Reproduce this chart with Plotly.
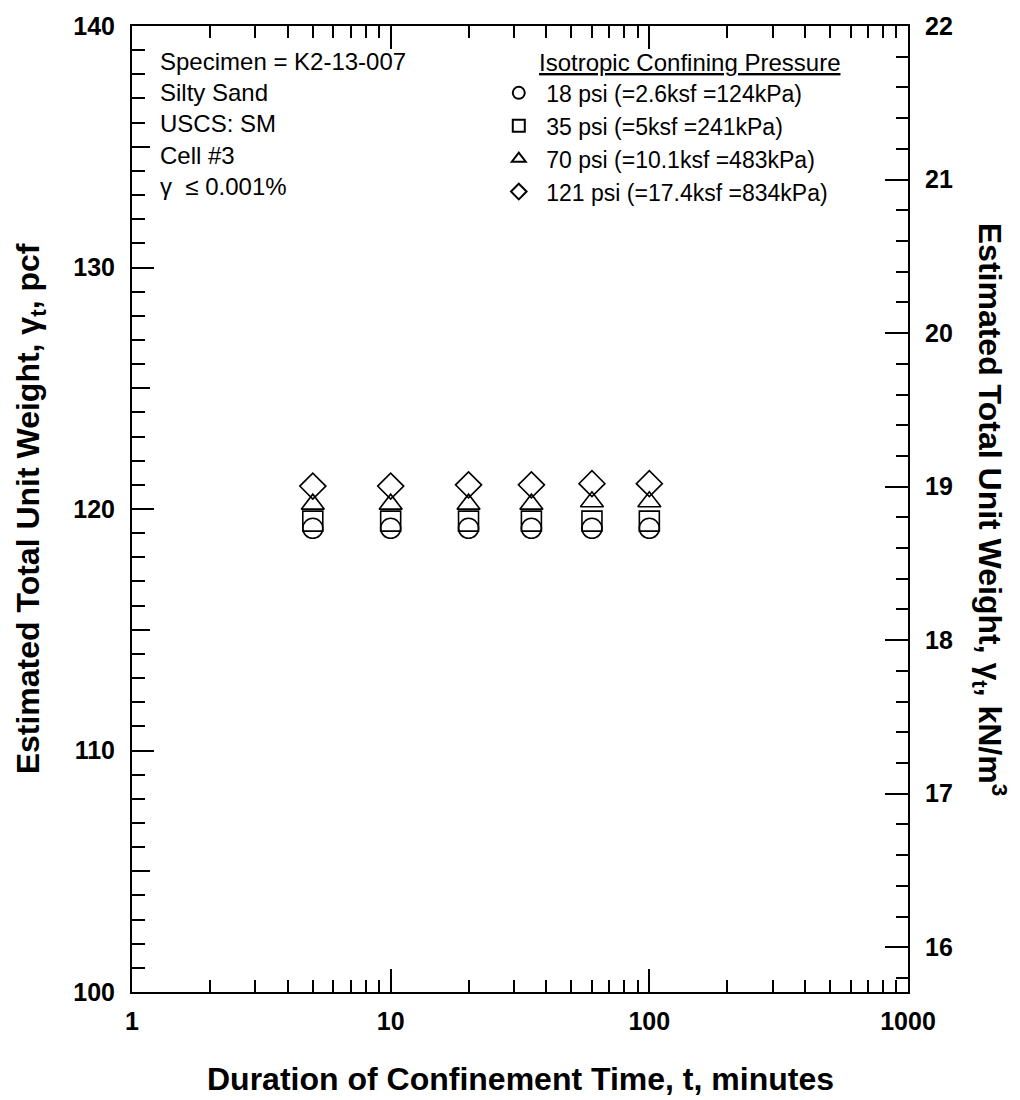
import plotly.graph_objects as go

# Confinement durations (minutes)
time_min = [5, 10, 20, 35, 60, 100]

# Estimated total unit weight (pcf) at each confining pressure
gamma_18psi = [119.2, 119.2, 119.2, 119.2, 119.2, 119.2]
gamma_35psi = [119.5, 119.5, 119.5, 119.5, 119.5, 119.5]
gamma_70psi = [120.2, 120.2, 120.2, 120.2, 120.3, 120.3]
gamma_121psi = [120.95, 120.95, 121.0, 121.0, 121.05, 121.05]

series_names = [
    "18 psi (=2.6ksf =124kPa)",
    "35 psi (=5ksf =241kPa)",
    "70 psi (=10.1ksf =483kPa)",
    "121 psi (=17.4ksf =834kPa)",
]
series_symbols = ["circle-open", "square-open", "triangle-up-open", "diamond-open"]
series_values = [gamma_18psi, gamma_35psi, gamma_70psi, gamma_121psi]

specimen_notes = ["Specimen = K2-13-007", "Silty Sand", "USCS: SM", "Cell #3", "γ  ≤ 0.001%"]
legend_heading = "Isotropic Confining Pressure"

x_major_ticks = [1, 10, 100, 1000]
x_minor_ticks = [m * d for d in (1, 10, 100) for m in range(2, 10)]
y_mid_ticks = [105, 115, 125, 135]

PCF_TO_KNM3 = 0.15708746
y_range_pcf = [100, 140]

FONT = "Liberation Sans, Arial, sans-serif"
BLACK = "#000000"
TICK_W = 1.6

fig = go.Figure()
for name, sym, vals in zip(series_names, series_symbols, series_values):
    fig.add_trace(go.Scatter(
        x=time_min, y=vals, mode="markers", name=name,
        marker=dict(symbol=sym, size=20, color=BLACK, line=dict(color=BLACK, width=1.6)),
    ))

# helper traces that activate the secondary axes (kN/m3 scale, extra tick sets)
fig.add_trace(go.Scatter(x=[10], y=[18], xaxis="x", yaxis="y2", mode="markers",
                         marker=dict(opacity=0), showlegend=False, hoverinfo="skip"))
fig.add_trace(go.Scatter(x=[10], y=[110], xaxis="x2", yaxis="y3", mode="markers",
                         marker=dict(opacity=0), showlegend=False, hoverinfo="skip"))

tick_font = dict(family=FONT, size=25, color=BLACK, weight="bold")

fig.update_layout(
    width=1020, height=1100,
    margin=dict(l=132, r=112, t=20, b=108),
    paper_bgcolor="white", plot_bgcolor="white",
    font=dict(family=FONT, color=BLACK, size=24),
    showlegend=True,
    legend=dict(
        x=0.463, y=0.953, xanchor="left", yanchor="top",
        bgcolor="rgba(0,0,0,0)", borderwidth=0,
        font=dict(family=FONT, size=23, color=BLACK),
        itemsizing="constant", itemwidth=45,
        tracegroupgap=0,
    ),
    xaxis=dict(
        type="log", range=[0, 3],
        showgrid=False, zeroline=False,
        showline=True, linecolor=BLACK, linewidth=2, mirror="ticks",
        ticks="inside", ticklen=23, tickwidth=TICK_W, tickcolor=BLACK,
        tickvals=x_major_ticks, ticktext=[str(v) for v in x_major_ticks],
        tickfont=tick_font, ticklabelstandoff=6,
    ),
    xaxis2=dict(
        type="log", range=[0, 3], overlaying="x", side="bottom", anchor="y3",
        showgrid=False, zeroline=False,
        showline=True, linecolor=BLACK, linewidth=2, mirror="ticks",
        ticks="inside", ticklen=12, tickwidth=TICK_W, tickcolor=BLACK,
        tickvals=x_minor_ticks, showticklabels=False,
    ),
    yaxis=dict(
        range=y_range_pcf,
        showgrid=False, zeroline=False,
        showline=True, linecolor=BLACK, linewidth=2,
        ticks="inside", ticklen=22, tickwidth=TICK_W, tickcolor=BLACK,
        tick0=100, dtick=10,
        tickfont=tick_font, ticklabelstandoff=10,
        minor=dict(ticks="inside", ticklen=13, tickwidth=TICK_W, tickcolor=BLACK, dtick=1),
    ),
    yaxis2=dict(
        overlaying="y", side="right", anchor="x",
        range=[y_range_pcf[0] * PCF_TO_KNM3, 22.0001],
        showgrid=False, zeroline=False,
        showline=True, linecolor=BLACK, linewidth=2,
        ticks="inside", ticklen=23, tickwidth=TICK_W, tickcolor=BLACK,
        tick0=16, dtick=1,
        tickfont=tick_font, ticklabelstandoff=10,
        minor=dict(ticks="inside", ticklen=12, tickwidth=TICK_W, tickcolor=BLACK, dtick=0.2),
    ),
    yaxis3=dict(
        overlaying="y", side="left", anchor="x2", range=y_range_pcf,
        showgrid=False, zeroline=False, showline=False,
        ticks="inside", ticklen=18, tickwidth=TICK_W, tickcolor=BLACK,
        tickvals=y_mid_ticks, showticklabels=False,
    ),
)

title_font = dict(family=FONT, size=32, color=BLACK)

# Axis titles
fig.add_annotation(
    text="<b>Duration of Confinement Time, t, minutes</b>",
    xref="paper", yref="paper", x=0.5, y=-0.0905, xanchor="center", yanchor="middle",
    showarrow=False, font=title_font,
)
fig.add_annotation(
    text="<b>Estimated Total Unit Weight, γ<sub>t</sub>, pcf</b>",
    xref="paper", yref="paper", x=-0.131, y=0.5, xanchor="center", yanchor="middle",
    textangle=-90, showarrow=False, font=title_font,
)
fig.add_annotation(
    text="<b>Estimated Total Unit Weight, γ<sub>t</sub>, kN/m<sup>3</sup></b>",
    xref="paper", yref="paper", x=1.106, y=0.5, xanchor="center", yanchor="middle",
    textangle=90, showarrow=False, font=title_font,
)

# Specimen description block
fig.add_annotation(
    text="<br>".join(specimen_notes),
    xref="paper", yref="paper", x=0.033, y=0.979, xanchor="left", yanchor="top",
    align="left", showarrow=False, font=dict(family=FONT, size=24, color=BLACK),
)

# Legend heading
fig.add_annotation(
    text="<u>" + legend_heading + "</u>",
    xref="paper", yref="paper", x=0.718, y=0.9625, xanchor="center", yanchor="middle",
    showarrow=False, font=dict(family=FONT, size=24, color=BLACK),
)

fig.write_html("out.html")
